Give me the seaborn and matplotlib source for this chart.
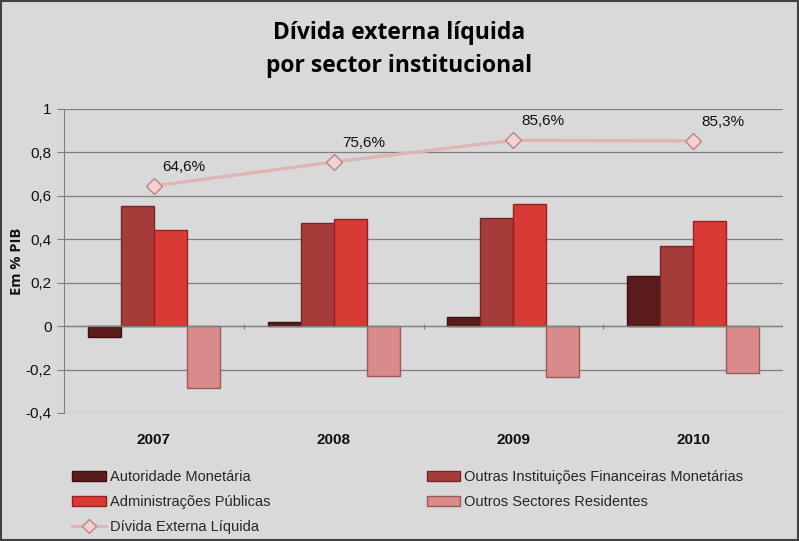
"""Dívida externa líquida por sector institucional - grouped bars plus line."""
import matplotlib
matplotlib.use('Agg')
import matplotlib.pyplot as plt
import matplotlib.patches as mpatches
from matplotlib.lines import Line2D
from matplotlib.ticker import FuncFormatter, MultipleLocator
import seaborn as sns
import pandas as pd

# Data (em % do PIB)
years = ['2007', '2008', '2009', '2010']
sectors = ['Autoridade Monetária',
           'Outras Instituições Financeiras Monetárias',
           'Administrações Públicas',
           'Outros Sectores Residentes']
autoridade = [-0.052, 0.020, 0.043, 0.230]
outras_ifm = [0.553, 0.473, 0.496, 0.369]
admin_publicas = [0.442, 0.493, 0.562, 0.484]
outros_sectores = [-0.287, -0.229, -0.233, -0.218]
divida_liquida = [0.646, 0.756, 0.856, 0.853]
divida_labels = ['64,6%', '75,6%', '85,6%', '85,3%']
line_name = 'Dívida Externa Líquida'

colors = ['#5a1c1c', '#a63c3a', '#d83a36', '#d98a8a']
edge_colors = ['#3a1010', '#7a2626', '#9a2020', '#9a5a5a']
line_color = '#dfb6b6'
bg = '#d9d9d9'

rows = []
for name, vals in zip(sectors, [autoridade, outras_ifm, admin_publicas, outros_sectores]):
    for yr, v in zip(years, vals):
        rows.append({'ano': yr, 'sector': name, 'valor': v})
df = pd.DataFrame(rows)

sns.set_style('white')
plt.rcParams['font.family'] = ['DejaVu Sans']

fig = plt.figure(figsize=(7.99, 5.41), dpi=100, facecolor=bg)
ax = fig.add_axes([64 / 799, 1 - 413 / 541, 719 / 799, 304 / 541])
ax.set_facecolor(bg)

sns.barplot(data=df, x='ano', y='valor', hue='sector', order=years,
            hue_order=sectors, palette=colors, width=0.735, gap=0,
            saturation=1, ax=ax, legend=False)
for i, cont in enumerate(ax.containers):
    for bar in cont:
        bar.set_edgecolor(edge_colors[i])
        bar.set_linewidth(1.0)

# Linha da dívida externa líquida
sns.pointplot(x=years, y=divida_liquida, order=years, color=line_color,
              markers='D', markersize=8, linewidth=2.4, ax=ax, zorder=4)
for line in ax.lines:
    line.set_markerfacecolor('#f4d2d2')
    line.set_markeredgecolor('#b98585')
    line.set_markeredgewidth(1.0)

for i, (v, lab) in enumerate(zip(divida_liquida, divida_labels)):
    ax.annotate(lab, (i, v), xytext=(30, 19), textcoords='offset pixels',
                ha='center', va='center', fontsize=11, color='#111111',
                family=['Liberation Sans', 'DejaVu Sans'])

ax.set_ylim(-0.4, 1.0)
ax.set_xlim(-0.5, 3.5)
ax.yaxis.set_major_locator(MultipleLocator(0.2))
ax.yaxis.set_major_formatter(FuncFormatter(
    lambda v, _: '0' if abs(v) < 1e-9 else f'{v:.1f}'.replace('.', ',').rstrip('0').rstrip(',')))
ax.grid(axis='y', color='#7f7f7f', linewidth=0.9)
ax.set_axisbelow(True)
ax.axhline(0, color='#7f7f7f', linewidth=0.9, zorder=1)
ax.vlines([0.5, 1.5, 2.5, 3.5], -0.012, 0.012, color='#7f7f7f', linewidth=0.9)

for s in ['top', 'right', 'bottom']:
    ax.spines[s].set_visible(False)
ax.spines['left'].set_color('#7f7f7f')
ax.tick_params(axis='y', left=True, length=5, color='#7f7f7f', labelsize=11,
               pad=4, labelcolor='#111111')
ax.tick_params(axis='x', bottom=False, labelsize=11, pad=11, labelcolor='#111111')
for t in ax.get_xticklabels() + ax.get_yticklabels():
    t.set_family(['Liberation Sans', 'DejaVu Sans'])
for t in ax.get_xticklabels():
    t.set_fontweight('bold')
ax.set_xlabel('')
ax.set_ylabel('Em % PIB', fontsize=10.5, fontweight='bold', labelpad=1,
              family=['Open Sans', 'DejaVu Sans'], color='#111111')

fig.suptitle('Dívida externa líquida\npor sector institucional', y=0.962,
             fontsize=16.5, fontweight='bold', family=['Open Sans', 'DejaVu Sans'],
             linespacing=1.5, color='#000000')

# Legenda (ordem por linhas, duas colunas)
patches = [mpatches.Patch(facecolor=c, edgecolor=e, label=n)
           for c, e, n in zip(colors, edge_colors, sectors)]
line_handle = Line2D([], [], color=line_color, linewidth=2.4, marker='D',
                     markersize=7, markerfacecolor='#f4d2d2',
                     markeredgecolor='#b98585', label=line_name)
handles = [patches[0], patches[2], line_handle, patches[1], patches[3]]
fig.legend(handles=handles, loc='lower left', bbox_to_anchor=(59 / 799, -0.012),
           ncol=2, frameon=False, handlelength=2.3,
           handleheight=0.7, handletextpad=0.3, columnspacing=10.7,
           labelspacing=0.75,
           prop={'family': ['Liberation Sans', 'DejaVu Sans'], 'size': 10.5})

fig.patches.append(mpatches.Rectangle((0.001, 0.001), 0.998, 0.998,
                                      transform=fig.transFigure, fill=False,
                                      edgecolor='#404040', linewidth=1.5))

fig.savefig('out.png', dpi=100, facecolor=bg)
plt.close(fig)
